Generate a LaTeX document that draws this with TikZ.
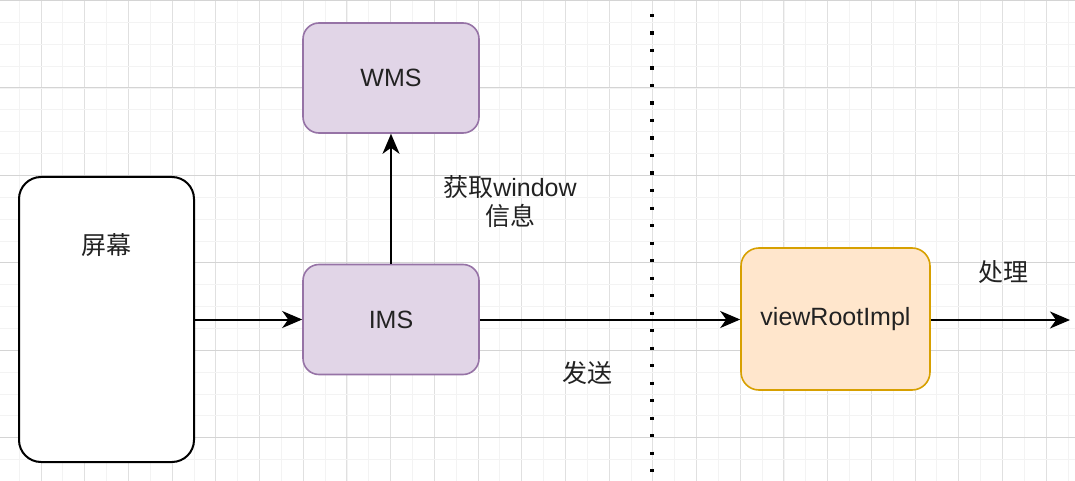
\documentclass[tikz,border=0pt]{standalone}
\usepackage{fontspec}
\setmainfont{Liberation Sans}
\newfontfamily\cjk{Noto Sans CJK SC}
\usetikzlibrary{arrows.meta}
\definecolor{purplefill}{HTML}{E1D5E7}
\definecolor{purpleline}{HTML}{9673A6}
\definecolor{orangefill}{HTML}{FFE6CC}
\definecolor{orangeline}{HTML}{D7A000}
\definecolor{gridminor}{HTML}{F3F3F3}
\definecolor{gridmid}{HTML}{E0E0E0}
\definecolor{gridmajor}{HTML}{D4D4D4}
\definecolor{txt}{HTML}{222222}
\tikzset{
  lbl/.style={font=\fontsize{25}{30}\selectfont, text=txt, inner sep=0pt},
  purplebox/.style={draw=purpleline, fill=purplefill, line width=1.6pt, rounded corners=16pt, minimum width=176pt, minimum height=110pt, inner sep=0pt, font=\fontsize{25}{30}\selectfont, text=txt},
  flow/.style={line width=2pt, -{Stealth[length=20pt, width=17pt, inset=6pt]}},
}
\begin{document}
\begin{tikzpicture}[x=1pt, y=-1pt]
\useasboundingbox (0,0) rectangle (1075,481);
\fill[white] (0,0) rectangle (1075,481);
% grid
\foreach \i in {0,...,50} {
  \pgfmathsetmacro{\gx}{41+21.85*(\i-2)}
  \draw[gridminor, line width=0.8pt] (\gx,0) -- (\gx,481);
}
\foreach \i in {0,...,25} {
  \pgfmathsetmacro{\gx}{41+43.7*(\i-1)}
  \draw[gridmid, line width=0.9pt] (\gx,0) -- (\gx,481);
}
\foreach \j in {0,...,24} {
  \pgfmathsetmacro{\gy}{88+21.85*(\j-4)}
  \draw[gridminor, line width=0.8pt] (0,\gy) -- (1075,\gy);
}
\foreach \j in {0,...,6} {
  \pgfmathsetmacro{\gy}{88+87.4*(\j-1)}
  \draw[gridmajor, line width=1pt] (0,\gy) -- (1075,\gy);
}
% dotted separator
\coordinate (dtop) at (652,14);
\coordinate (dbot) at (652,481);
\draw[line width=3.2pt, line cap=butt, dash pattern=on 3.2pt off 14.3pt] (dtop) -- (dbot);
% nodes
\node[draw=black, fill=white, line width=2pt, rounded corners=22pt, minimum width=175pt, minimum height=285pt, inner sep=0pt] (screen) at (106.5,319.5) {};
\node[lbl] (screenlbl) at (106,245) {\cjk 屏幕};
\node[purplebox] (wms) at (391,78) {WMS};
\node[purplebox] (ims) at (391,319.5) {IMS};
\node[draw=orangeline, fill=orangefill, line width=1.6pt, rounded corners=18pt, minimum width=189pt, minimum height=142pt, inner sep=0pt, font=\fontsize{25}{30}\selectfont, text=txt] (vri) at (835.5,319) {viewRootImpl};
\coordinate (out) at (1070,320);
% connectors
\draw[flow] (screen.east |- ims) -- (ims.west);
\draw[flow] (ims.north) -- (wms.south);
\draw[flow] (ims.east) -- (vri.west |- ims);
\draw[flow] (vri.east |- out) -- (out);
% labels
\node[lbl] (l1) at (510,187) {{\cjk 获取}window};
\node[lbl] (l2) at (510,216) {\cjk 信息};
\node[lbl] (l3) at (587,373) {\cjk 发送};
\node[lbl] (l4) at (1003,272) {\cjk 处理};
\end{tikzpicture}
\end{document}
